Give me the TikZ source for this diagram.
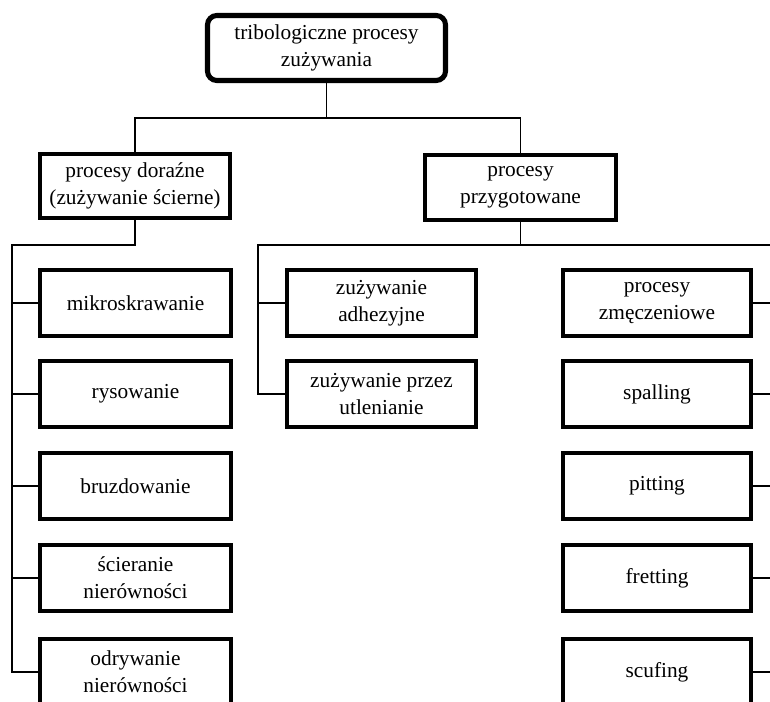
\documentclass[tikz,border=0pt]{standalone}
\usepackage{fontspec}
\setmainfont{Liberation Serif}
\begin{document}
\begin{tikzpicture}[x=0.75pt,y=-0.75pt]
\tikzset{
  box/.style={draw=black, line width=3.2pt, fill=white, align=center,
    inner sep=1pt, font=\fontsize{16}{20.5}\selectfont,
    minimum height=49.5pt},
  rootbox/.style={box, line width=3.8pt, rounded corners=7pt,
    minimum width=178.5pt, minimum height=48.75pt},
  leftbox/.style={box, minimum width=143.25pt},
  midbox/.style={box, minimum width=141.75pt},
  rightbox/.style={box, minimum width=141pt},
  conn/.style={draw=black, line width=1.1pt}
}
\useasboundingbox (0,0) rectangle (770,702);

% root and the two main groups
\node[rootbox] (root) at (326.5,48) {tribologiczne procesy\\zużywania};
\node[box, minimum width=142.5pt, minimum height=48pt] (dor) at (135,186)
  {procesy doraźne\\(zużywanie ścierne)};
\node[box, minimum width=143.25pt, minimum height=48.75pt] (prz) at (520.5,187.5)
  {procesy\\przygotowane};

% abrasive wear column
\node[leftbox] (l1) at (135.5,303) {mikroskrawanie};
\node[leftbox] (l2) at (135.5,394) {rysowanie};
\node[leftbox] (l3) at (135.5,486) {bruzdowanie};
\node[leftbox] (l4) at (135.5,578) {ścieranie\\nierówności};
\node[leftbox] (l5) at (135.5,672) {odrywanie\\nierówności};

% adhesive / oxidation column
\node[midbox] (m1) at (381.5,303) {zużywanie\\adhezyjne};
\node[midbox] (m2) at (381.5,394) {zużywanie przez\\utlenianie};

% fatigue column
\node[rightbox] (r1) at (657,303) {procesy\\zmęczeniowe};
\node[rightbox] (r2) at (657,394) {spalling};
\node[rightbox] (r3) at (657,486) {pitting};
\node[rightbox] (r4) at (657,578) {fretting};
\node[rightbox] (r5) at (657,672) {scufing};

% junction points
\coordinate (rootbus) at (326.5,118);
\coordinate (busL) at (135,118);
\coordinate (busR) at (520.5,118);
\coordinate (dorbus) at (135,245);
\coordinate (spineL) at (12,245);
\coordinate (przbus) at (520.5,245);
\coordinate (spineM) at (258,245);
\coordinate (spineR) at (770,245);

% root to the two groups
\draw[conn] (root.south) -- (rootbus);
\draw[conn] (dor.north) -- (busL) -- (busR) -- (prz.north);

% abrasive wear branch
\draw[conn] (dor.south) -- (dorbus) -- (spineL) -- (spineL |- l5.west) -- (l5.west);
\foreach \n in {l1,l2,l3,l4}
  \draw[conn] (spineL |- \n.west) -- (\n.west);

% prepared processes branch
\draw[conn] (prz.south) -- (przbus);
\draw[conn] (spineR) -- (spineM) -- (spineM |- m2.west) -- (m2.west);
\draw[conn] (spineM |- m1.west) -- (m1.west);
\foreach \n in {r1,r2,r3,r4,r5}
  \draw[conn] (\n.east) -- (spineR |- \n.east);
\end{tikzpicture}
\end{document}
